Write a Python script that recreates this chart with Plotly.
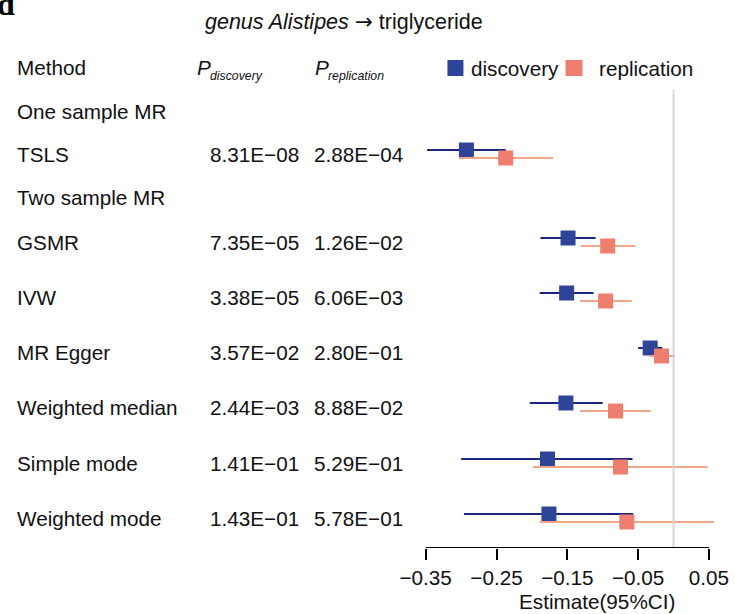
import plotly.graph_objects as go

# ---------------- data ----------------
methods = ["TSLS", "GSMR", "IVW", "MR Egger", "Weighted median", "Simple mode", "Weighted mode"]
groups = ["One sample MR", "Two sample MR"]
p_discovery = ["8.31E\u221208", "7.35E\u221205", "3.38E\u221205", "3.57E\u221202", "2.44E\u221203", "1.41E\u221201", "1.43E\u221201"]
p_replication = ["2.88E\u221204", "1.26E\u221202", "6.06E\u221203", "2.80E\u221201", "8.88E\u221202", "5.29E\u221201", "5.78E\u221201"]

disc_est = [-0.2925, -0.149, -0.151, -0.033, -0.152, -0.178, -0.176]
disc_lo = [-0.348, -0.188, -0.189, -0.050, -0.203, -0.300, -0.296]
disc_hi = [-0.237, -0.110, -0.113, -0.016, -0.100, -0.058, -0.057]

rep_est = [-0.237, -0.093, -0.096, -0.017, -0.082, -0.075, -0.066]
rep_lo = [-0.303, -0.131, -0.132, -0.035, -0.132, -0.199, -0.189]
rep_hi = [-0.170, -0.054, -0.059, 0.002, -0.032, 0.048, 0.057]

tick_vals = [-0.35, -0.25, -0.15, -0.05, 0.05]
tick_text = ["\u22120.35", "\u22120.25", "\u22120.15", "\u22120.05", "0.05"]

# ---------------- layout helpers ----------------
W, H = 735, 614
FONT = "Liberation Sans, Arial, sans-serif"
FS = 20.7
AXIS_Y = 548  # pixel row of the x axis

# horizontal correction for how the page is photographed
SX_OFF, SX_SCALE = 11.0, 0.98


def px(x):
    """target picture x (pixels) -> paper fraction"""
    return ((x - SX_OFF) / SX_SCALE) / W


def py(y):
    return 1 - y / H


row_labels = ["Method", groups[0], methods[0], groups[1]] + methods[1:]
row_gaps = [0, 44, 43, 43, 45, 55, 55, 55, 56, 55]
row_y = []
acc = 67
for g in row_gaps:
    acc += g
    row_y.append(acc)
method_y = [row_y[2]] + row_y[4:]
off = 4

fig = go.Figure()

fig.add_trace(go.Scatter(
    x=disc_est, y=[v - off for v in method_y], mode="markers",
    marker=dict(symbol="square", size=15, color="#2E4499", line=dict(width=0)),
    error_x=dict(type="data", symmetric=False,
                 array=[h - e for h, e in zip(disc_hi, disc_est)],
                 arrayminus=[e - l for e, l in zip(disc_est, disc_lo)],
                 color="#1C2580", thickness=2.2, width=0),
    showlegend=False, hoverinfo="skip"))

fig.add_trace(go.Scatter(
    x=rep_est, y=[v + off for v in method_y], mode="markers",
    marker=dict(symbol="square", size=15, color="#EE7E6D", line=dict(width=0)),
    error_x=dict(type="data", symmetric=False,
                 array=[h - e for h, e in zip(rep_hi, rep_est)],
                 arrayminus=[e - l for e, l in zip(rep_est, rep_lo)],
                 color="#F4A586", thickness=2.2, width=0),
    showlegend=False, hoverinfo="skip"))

ann = []
for lab, y in zip(row_labels, row_y):
    ann.append(dict(x=px(15), y=y, xref="paper", yref="y", text=lab,
                    xanchor="left", yanchor="middle", showarrow=False,
                    font=dict(family=FONT, size=FS, color="#111111")))
for pd_, pr_, y in zip(p_discovery, p_replication, method_y):
    ann.append(dict(x=px(208), y=y, xref="paper", yref="y", text=pd_,
                    xanchor="left", yanchor="middle", showarrow=False,
                    font=dict(family=FONT, size=FS, color="#111111")))
    ann.append(dict(x=px(312), y=y, xref="paper", yref="y", text=pr_,
                    xanchor="left", yanchor="middle", showarrow=False,
                    font=dict(family=FONT, size=FS, color="#111111")))

for xp, sub in [(195, "discovery"), (313, "replication")]:
    ann.append(dict(x=px(xp), y=row_y[0], xref="paper", yref="y", text="<i>P</i>",
                    xanchor="left", yanchor="middle", showarrow=False,
                    font=dict(family=FONT, size=FS, color="#111111")))
    ann.append(dict(x=px(xp + 13), y=row_y[0] + 9, xref="paper", yref="y",
                    text="<i>" + sub + "</i>",
                    xanchor="left", yanchor="middle", showarrow=False,
                    font=dict(family=FONT, size=12.3, color="#111111")))

ann.append(dict(x=px(344), y=py(21), xref="paper", yref="paper",
                text="<i>genus Alistipes</i> <span style=\"font-family:'DejaVu Sans'\">\u2192</span> triglyceride",
                xanchor="center", yanchor="middle", showarrow=False,
                font=dict(family=FONT, size=21.5, color="#111111")))
ann.append(dict(x=px(17), y=py(24), xref="paper", yref="paper", text="<b>d</b>",
                xanchor="right", yanchor="bottom", showarrow=False,
                font=dict(family="Liberation Serif, Times New Roman, serif", size=32, color="#000000")))
ann.append(dict(x=px(469), y=py(68), xref="paper", yref="paper", text="discovery",
                xanchor="left", yanchor="middle", showarrow=False,
                font=dict(family=FONT, size=FS, color="#111111")))
ann.append(dict(x=px(596), y=py(68), xref="paper", yref="paper", text="replication",
                xanchor="left", yanchor="middle", showarrow=False,
                font=dict(family=FONT, size=FS, color="#111111")))
ann.append(dict(x=px(596), y=py(601), xref="paper", yref="paper", text="Estimate(95%CI)",
                xanchor="center", yanchor="middle", showarrow=False,
                font=dict(family=FONT, size=FS, color="#111111")))

shapes = [
    dict(type="line", xref="x", yref="y", x0=0, x1=0, y0=90, y1=AXIS_Y,
         line=dict(color="#D6D6D6", width=2)),
    dict(type="line", xref="x", yref="y", x0=tick_vals[0], x1=tick_vals[-1],
         y0=AXIS_Y, y1=AXIS_Y, line=dict(color="#000000", width=2)),
    dict(type="rect", xref="paper", yref="paper", x0=px(447), x1=px(463), y0=py(76), y1=py(60),
         fillcolor="#2E4499", line=dict(width=0)),
    dict(type="rect", xref="paper", yref="paper", x0=px(565), x1=px(582), y0=py(76), y1=py(60),
         fillcolor="#EE7E6D", line=dict(width=0)),
]

# x scale in target pixels: -0.35 at 425.3, 707.5 px per unit; plot area 410..725
x0_px, x1_px = 410, 725
ppu = 707.5
xr = [-0.35 + (x0_px - 425.3) / ppu, -0.35 + (x1_px - 425.3) / ppu]

fig.update_layout(
    width=W, height=H,
    margin=dict(l=0, r=0, t=0, b=0),
    paper_bgcolor="white", plot_bgcolor="white",
    showlegend=False,
    annotations=ann, shapes=shapes,
    xaxis=dict(domain=[px(x0_px), px(x1_px)], range=xr, showgrid=False, zeroline=False,
               showline=False, ticks="outside", ticklen=11, tickwidth=2, tickcolor="#000000",
               tickvals=tick_vals, ticktext=tick_text,
               tickfont=dict(family=FONT, size=FS, color="#111111")),
    yaxis=dict(domain=[1 - AXIS_Y / H, 1], range=[AXIS_Y, 0], visible=False,
               showgrid=False, zeroline=False),
)

fig.write_html("out.html", config={"displayModeBar": False},
               post_script="document.body.style.margin='0';document.body.style.overflow='hidden';")
